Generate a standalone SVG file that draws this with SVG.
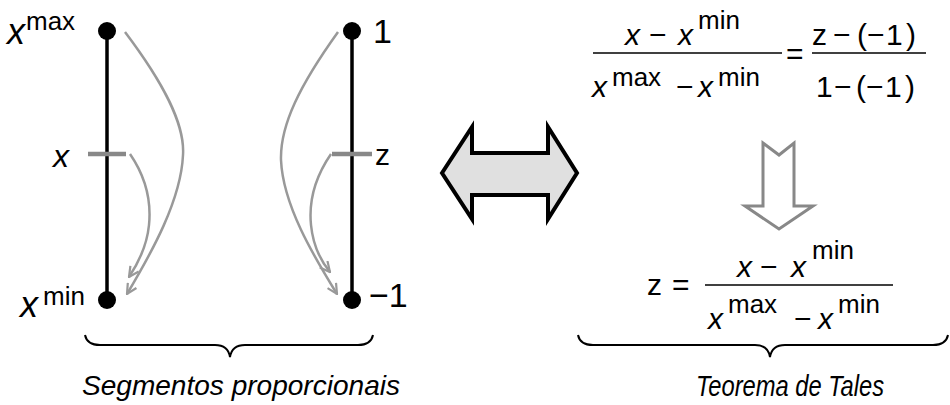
<svg xmlns="http://www.w3.org/2000/svg" width="950" height="405" viewBox="0 0 950 405">
<defs>
<marker id="ah" viewBox="0 0 12 12" refX="11" refY="6" markerWidth="12" markerHeight="12" markerUnits="userSpaceOnUse" orient="auto">
<path d="M1,1 L11,6 L1,11" fill="none" stroke="#999" stroke-width="2.2"/>
</marker>
<style>
text{font-family:"Liberation Sans",Arial,sans-serif;fill:#000}
.it{font-style:italic}
.f{font-size:30px}
.s{font-size:26px}
.axis{stroke:#000;stroke-width:3.5}
.tick{stroke:#888;stroke-width:4.5}
.dot{fill:#000}
.cur{fill:none;stroke:#999;stroke-width:2.5;marker-end:url(#ah)}
.brace{fill:none;stroke:#000;stroke-width:2}
</style>
</defs>
<rect width="950" height="405" fill="#fff"/>

<g id="left-scale">
<line class="axis" x1="107" y1="31" x2="107" y2="300"/>
<circle class="dot" cx="107" cy="31" r="9"/>
<circle class="dot" cx="107" cy="300" r="9"/>
<line class="tick" x1="88" y1="154" x2="126" y2="154"/>
<text class="it" x="7" y="44" font-size="36">x</text>
<text x="26" y="30" font-size="26">max</text>
<text class="it" x="53" y="167" font-size="32">x</text>
<text class="it" x="20" y="317" font-size="36">x</text>
<text x="43" y="305" font-size="26">min</text>
</g>

<g id="right-scale">
<line class="axis" x1="352" y1="31" x2="352" y2="300"/>
<circle class="dot" cx="352" cy="31" r="9"/>
<circle class="dot" cx="352" cy="300" r="9"/>
<line class="tick" x1="332" y1="154" x2="372" y2="154"/>
<text x="373" y="43" font-size="34">1</text>
<text x="375" y="165" font-size="30">z</text>
<text x="369" y="307" font-size="34">−1</text>
</g>

<g id="connectors">
<path class="cur" d="M125,32 C165,85 185,125 183,155 C181,200 152,252 127,294"/>
<path class="cur" d="M130,154 C141,170 152,195 149,225 C147,245 139,262 129,277"/>
<path class="cur" d="M338,32 C300,85 280,125 281,160 C283,205 313,255 337,294"/>
<path class="cur" d="M331,154 C320,170 308,195 311,225 C313,245 320,260 330,272"/>
</g>

<g id="double-arrow">
<polygon points="442,173 472,127 472,153 548,153 548,127 577,173 548,219 548,195 472,195 472,219" fill="#e0e0e0" stroke="#000" stroke-width="4" stroke-linejoin="miter"/>
</g>

<g id="formula-1">
<text class="f it" x="625" y="45">x</text>
<text class="f" x="649" y="45">−</text>
<text class="f it" x="678" y="45">x</text>
<text class="s" x="698" y="29">min</text>
<line x1="593" y1="53" x2="782" y2="53" stroke="#000" stroke-width="1.6"/>
<text class="f it" x="592" y="97">x</text>
<text class="s" x="612" y="86">max</text>
<text class="f" x="676" y="97">−</text>
<text class="f it" x="698" y="97">x</text>
<text class="s" x="718" y="86">min</text>
<text class="f" x="786" y="64">=</text>
<text class="f" x="812" y="45">z</text>
<text class="f" x="833" y="45">−</text>
<text class="f" x="857" y="45">(</text>
<text class="f" x="867" y="45">−</text>
<text class="f" x="886" y="45">1</text>
<text class="f" x="906" y="45">)</text>
<line x1="812" y1="53" x2="926" y2="53" stroke="#000" stroke-width="1.6"/>
<text class="f" x="816" y="97">1</text>
<text class="f" x="834" y="97">−</text>
<text class="f" x="856" y="97">(</text>
<text class="f" x="866" y="97">−</text>
<text class="f" x="885" y="97">1</text>
<text class="f" x="905" y="97">)</text>
</g>

<g id="down-arrow">
<polygon points="763,143 779,155 794,143 794,206 813,206 779,229 745,206 763,206" fill="#fff" stroke="#888" stroke-width="3" stroke-linejoin="miter"/>
</g>

<g id="formula-2">
<text class="f" x="647" y="295">z</text>
<text class="f" x="672" y="295">=</text>
<text class="f it" x="737" y="277">x</text>
<text class="f" x="760" y="277">−</text>
<text class="f it" x="791" y="277">x</text>
<text class="s" x="812" y="259">min</text>
<line x1="705" y1="285" x2="893" y2="285" stroke="#000" stroke-width="1.6"/>
<text class="f it" x="708" y="329">x</text>
<text class="s" x="728" y="313">max</text>
<text class="f" x="794" y="329">−</text>
<text class="f it" x="818" y="329">x</text>
<text class="s" x="838" y="313">min</text>
</g>

<g id="brace-left">
<path class="brace" d="M85,335 Q87,345 100,345 L215,345 Q228,345 230,357 Q232,345 245,345 L358,345 Q371,345 373,335"/>
<text class="it" x="82" y="395" font-size="28" textLength="318" lengthAdjust="spacingAndGlyphs">Segmentos proporcionais</text>
</g>

<g id="brace-right">
<path class="brace" d="M578,335 Q580,345 593,345 L755,345 Q768,345 770,357 Q772,345 785,345 L933,345 Q946,345 948,335"/>
<text class="it" x="696" y="396" font-size="30" textLength="188" lengthAdjust="spacingAndGlyphs">Teorema de Tales</text>
</g>
</svg>
